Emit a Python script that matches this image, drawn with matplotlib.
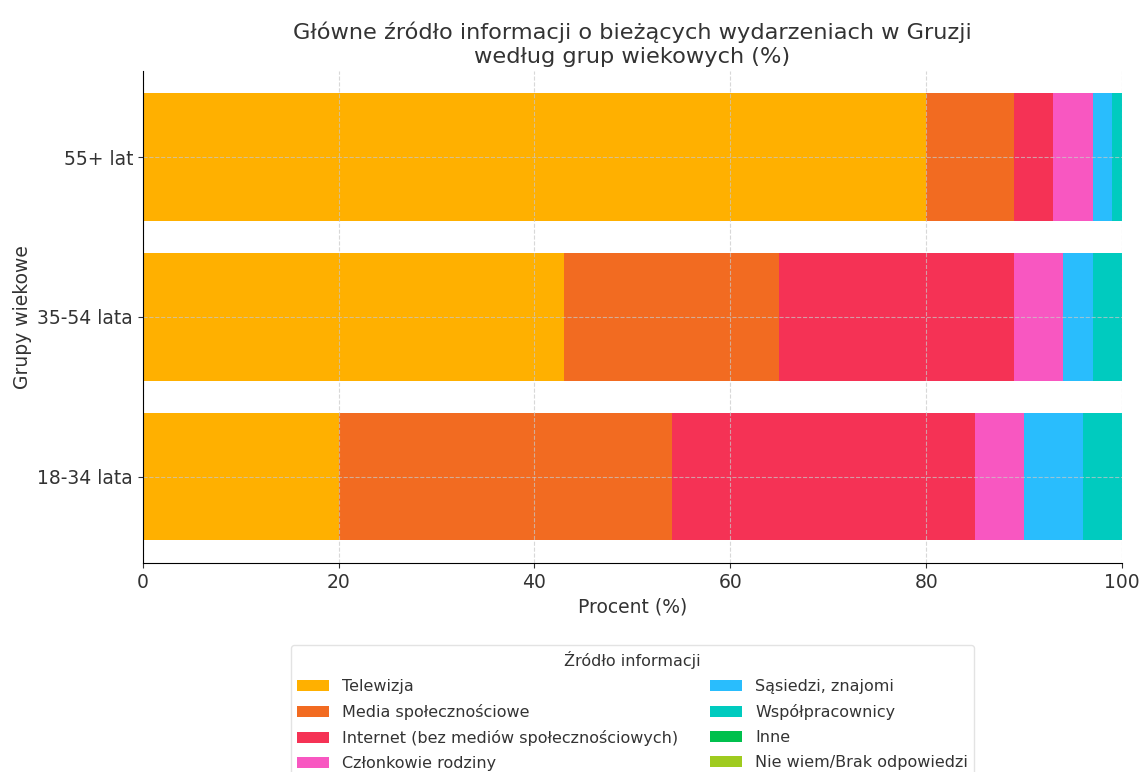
import matplotlib.pyplot as plt
import numpy as np

groups = ["18-34 lata", "35-54 lata", "55+ lat"]
sources = ["Telewizja", "Media społecznościowe", "Internet (bez mediów społecznościowych)",
           "Członkowie rodziny", "Sąsiedzi, znajomi", "Współpracownicy", "Inne",
           "Nie wiem/Brak odpowiedzi"]
colors = ["#FFB000", "#F26B21", "#F53255", "#F857C1", "#29BDFD", "#00CBBF", "#00C04D", "#9FCB1F"]

# values per source, ordered like groups
telewizja = [20, 43, 80]
media = [34, 22, 9]
internet = [31, 24, 4]
rodzina = [5, 5, 4]
sasiedzi = [6, 3, 2]
wspolpracownicy = [4, 3, 1]
inne = [0, 0, 0]
nie_wiem = [0, 0, 0]

values = [telewizja, media, internet, rodzina, sasiedzi, wspolpracownicy, inne, nie_wiem]

plt.rcParams['text.color'] = '#333333'
plt.rcParams['axes.labelcolor'] = '#333333'
plt.rcParams['xtick.color'] = '#333333'
plt.rcParams['ytick.color'] = '#333333'

fig = plt.figure(figsize=(11.42, 7.72), dpi=100)
ax = fig.add_axes([0.125, 0.271, 0.8575, 0.637])

left = np.zeros(len(groups))
for src, vals, col in zip(sources, values, colors):
    ax.barh(groups, vals, left=left, color=col, height=0.8, label=src)
    left += np.array(vals)

ax.set_xlim(0, 100)
ax.set_axisbelow(False)
ax.grid(True, linestyle='--', color='#c8c8c8', alpha=0.7)
ax.spines['top'].set_visible(False)
ax.spines['right'].set_visible(False)
for s in ax.spines.values():
    s.set_zorder(4)
ax.tick_params(labelsize=13.5)
ax.set_xlabel("Procent (%)", fontsize=13.5)
ax.set_ylabel("Grupy wiekowe", fontsize=13.5)
ax.set_title("Główne źródło informacji o bieżących wydarzeniach w Gruzji\nwedług grup wiekowych (%)",
             fontsize=16.2, pad=6)

fig.legend(title="Źródło informacji", loc='upper center', bbox_to_anchor=(0.554, 0.175),
           ncol=2, fontsize=11.5, title_fontsize=11.5, labelspacing=0.62,
           frameon=True, edgecolor='#dddddd')

fig.savefig("out.png", dpi=100)
